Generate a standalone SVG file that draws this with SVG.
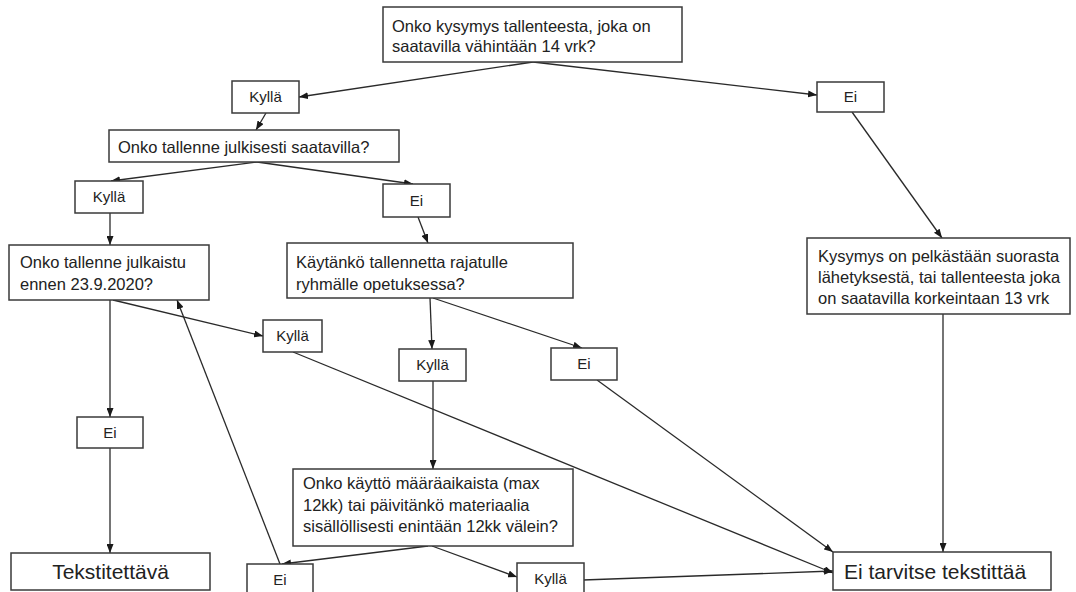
<svg xmlns="http://www.w3.org/2000/svg" width="1076" height="592" viewBox="0 0 1076 592">
<style>
.box{fill:#fff;stroke:#3a3a3a;stroke-width:1.5}
.t{font-family:"Liberation Sans",Arial,sans-serif;font-size:16.5px;fill:#222}
.l{font-family:"Liberation Sans",Arial,sans-serif;font-size:15px;fill:#222;text-anchor:middle}
.big{font-family:"Liberation Sans",Arial,sans-serif;font-size:21px;fill:#222}
.c{fill:none;stroke:#2a2a2a;stroke-width:1.3;marker-end:url(#ah)}
</style>
<defs>
<marker id="ah" markerUnits="userSpaceOnUse" markerWidth="9" markerHeight="7" refX="9" refY="3.5" orient="auto">
<path d="M0,0 L9,3.5 L0,7 z" fill="#1a1a1a"/>
</marker>
</defs>
<rect width="1076" height="592" fill="#fff"/>
<g id="connectors">
<path class="c" d="M533,62 L299,97"/>
<path class="c" d="M533,62 L817,95"/>
<path class="c" d="M266,113 L256,130"/>
<path class="c" d="M257,162 L111,181"/>
<path class="c" d="M257,162 L413,184"/>
<path class="c" d="M110,213 L110,245"/>
<path class="c" d="M418,217 L428,243"/>
<path class="c" d="M852,112 L942,238"/>
<path class="c" d="M943,314 L943,552"/>
<path class="c" d="M113,300 L263,336"/>
<path class="c" d="M110,300 L110,417"/>
<path class="c" d="M110,448 L110,553"/>
<path class="c" d="M430,298 L432,349"/>
<path class="c" d="M433,298 L582,348"/>
<path class="c" d="M293,352 L833,573"/>
<path class="c" d="M597,380 L833,552"/>
<path class="c" d="M433,381 L433,469"/>
<path class="c" d="M428,546 L282,564"/>
<path class="c" d="M432,546 L517,577"/>
<path class="c" d="M583,580 L833,571"/>
<path class="c" d="M280,564 L177,300"/>
</g>
<g id="q1"><rect class="box" x="383" y="7" width="299" height="55"/>
<text class="t" x="392" y="32">Onko kysymys tallenteesta, joka on</text>
<text class="t" x="392" y="52">saatavilla vähintään 14 vrk?</text></g>
<g id="kylla1"><rect class="box" x="232" y="81" width="67" height="32"/><text class="l" x="265.5" y="102">Kyllä</text></g>
<g id="ei1"><rect class="box" x="817" y="82" width="67" height="30"/><text class="l" x="850.5" y="102">Ei</text></g>
<g id="q2"><rect class="box" x="109" y="130" width="290" height="32"/>
<text class="t" x="118" y="153">Onko tallenne julkisesti saatavilla?</text></g>
<g id="kylla2"><rect class="box" x="75" y="181" width="68" height="32"/><text class="l" x="109" y="202">Kyllä</text></g>
<g id="ei2"><rect class="box" x="383" y="184" width="67" height="33"/><text class="l" x="416.5" y="206">Ei</text></g>
<g id="q3"><rect class="box" x="9" y="245" width="200" height="55"/>
<text class="t" x="20" y="268">Onko tallenne julkaistu</text>
<text class="t" x="20" y="290">ennen 23.9.2020?</text></g>
<g id="q4"><rect class="box" x="287" y="243" width="286" height="55"/>
<text class="t" x="296" y="268">Käytänkö tallennetta rajatulle</text>
<text class="t" x="296" y="290">ryhmälle opetuksessa?</text></g>
<g id="q5"><rect class="box" x="807" y="238" width="263" height="76"/>
<text class="t" x="818" y="262">Kysymys on pelkästään suorasta</text>
<text class="t" x="818" y="283">lähetyksestä, tai tallenteesta joka</text>
<text class="t" x="818" y="304">on saatavilla korkeintaan 13 vrk</text></g>
<g id="kylla3"><rect class="box" x="263" y="320" width="59" height="32"/><text class="l" x="292.5" y="341">Kyllä</text></g>
<g id="kylla4"><rect class="box" x="399" y="349" width="67" height="32"/><text class="l" x="432.5" y="370">Kyllä</text></g>
<g id="ei5"><rect class="box" x="551" y="348" width="66" height="32"/><text class="l" x="584" y="369">Ei</text></g>
<g id="ei3"><rect class="box" x="77" y="417" width="66" height="31"/><text class="l" x="110" y="438">Ei</text></g>
<g id="q6"><rect class="box" x="293" y="469" width="280" height="77"/>
<text class="t" x="303" y="489">Onko käyttö määräaikaista (max</text>
<text class="t" x="303" y="511">12kk) tai päivitänkö materiaalia</text>
<text class="t" x="303" y="532">sisällöllisesti enintään 12kk välein?</text></g>
<g id="tekstitettava"><rect class="box" x="11" y="553" width="199" height="37"/><text class="big" x="110.5" y="579" text-anchor="middle">Tekstitettävä</text></g>
<g id="ei4"><rect class="box" x="247" y="564" width="66" height="40"/><text class="l" x="280" y="585">Ei</text></g>
<g id="kylla5"><rect class="box" x="517" y="563" width="67" height="40"/><text class="l" x="550.5" y="584">Kyllä</text></g>
<g id="eitarvitse"><rect class="box" x="833" y="552" width="218" height="38"/><text class="big" x="844" y="579">Ei tarvitse tekstittää</text></g>
</svg>
